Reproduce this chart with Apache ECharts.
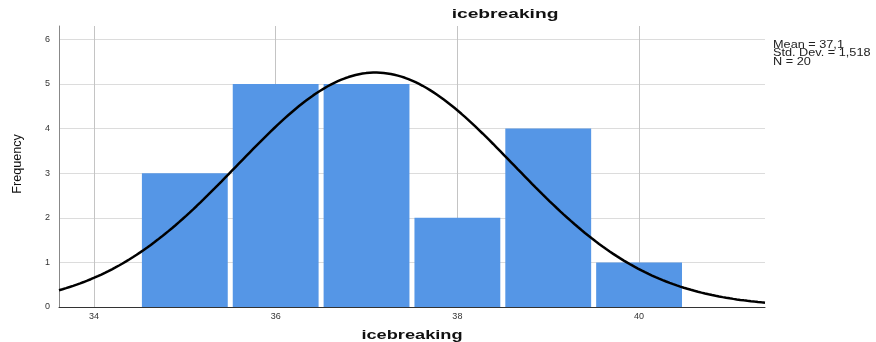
<!DOCTYPE html>
<html>
<head>
<meta charset="utf-8">
<script src="https://cdn.jsdelivr.net/npm/echarts@6/dist/echarts.min.js"></script>
<style>
  html, body { margin: 0; padding: 0; background: #fff; }
  #chart { width: 876px; height: 342px; }
</style>
</head>
<body>
<div id="chart"></div>
<script>
// Histogram bins (lower, upper) and their frequencies
const binLower = [34.5, 35.5, 36.5, 37.5, 38.5, 39.5];
const binUpper = [35.5, 36.5, 37.5, 38.5, 39.5, 40.5];
const frequency = [3, 5, 5, 2, 4, 1];

// Summary statistics shown beside the plot
const mean = 37.1;
const stdDev = 1.518;
const n = 20;
const binWidth = 1;

// Axis ranges and tick labels
const xMin = 33.615, xMax = 41.386;
const xTicks = [34, 36, 38, 40];
const yTicks = [0, 1, 2, 3, 4, 5, 6];
const yMax = 6.3;

// Fitted normal curve scaled to counts
const curve = [];
const steps = 200;
for (let i = 0; i <= steps; i++) {
  const x = xMin + (xMax - xMin) * i / steps;
  const z = (x - mean) / stdDev;
  const y = n * binWidth * Math.exp(-0.5 * z * z) / (stdDev * Math.sqrt(2 * Math.PI));
  curve.push([x, y]);
}

const bars = binLower.map((lo, i) => [lo, binUpper[i], frequency[i]]);
const FONT = 'Liberation Sans, Arial, sans-serif';
const BAR_GAP = 2.5; // half of the white gap between neighbouring bars, px

const chart = echarts.init(document.getElementById('chart'), null, { renderer: 'canvas' });
chart.setOption({
  animation: false,
  backgroundColor: '#ffffff',
  grid: { left: 59, right: 111, top: 26, bottom: 35, outerBoundsMode: 'none', containLabel: false },
  xAxis: {
    type: 'value',
    min: xMin, max: xMax,
    axisLine: { show: true, lineStyle: { color: '#333', width: 1 } },
    axisTick: { show: false, customValues: xTicks },
    axisLabel: { customValues: xTicks, fontSize: 9, color: '#333', margin: 5, fontFamily: FONT },
    splitLine: { show: true, lineStyle: { color: '#c4c4c4', width: 1 } }
  },
  yAxis: {
    type: 'value',
    min: 0, max: yMax,
    axisLine: { show: true, lineStyle: { color: '#888', width: 1 } },
    axisTick: { show: false, customValues: yTicks },
    axisLabel: { customValues: yTicks, fontSize: 9, color: '#333', margin: 9, fontFamily: FONT },
    splitLine: { show: true, lineStyle: { color: '#dcdcdc', width: 1 } }
  },
  series: [
    {
      type: 'custom',
      data: bars,
      z: 2,
      renderItem: function (params, api) {
        const p0 = api.coord([api.value(0), api.value(2)]);
        const p1 = api.coord([api.value(1), 0]);
        return {
          type: 'rect',
          shape: { x: p0[0] + BAR_GAP, y: p0[1], width: p1[0] - p0[0] - 2 * BAR_GAP, height: p1[1] - p0[1] },
          style: { fill: '#5596e6' }
        };
      }
    },
    {
      type: 'line',
      data: curve,
      z: 3,
      showSymbol: false,
      smooth: false,
      lineStyle: { color: '#000', width: 2.5 }
    }
  ],
  graphic: [
    {
      type: 'text',
      x: 505, y: 15,
      scaleX: 1.6,
      style: {
        text: 'icebreaking',
        font: 'bold 12px ' + FONT,
        fill: '#111',
        align: 'center',
        verticalAlign: 'middle'
      }
    },
    {
      type: 'text',
      x: 412, y: 335,
      scaleX: 1.4,
      style: {
        text: 'icebreaking',
        font: 'bold 13px ' + FONT,
        fill: '#111',
        align: 'center',
        verticalAlign: 'middle'
      }
    },
    {
      type: 'text',
      x: 18, y: 164,
      rotation: Math.PI / 2,
      scaleX: 0.9,
      scaleY: 0.85,
      style: {
        text: 'Frequency',
        font: '14px ' + FONT,
        fill: '#111',
        align: 'center',
        verticalAlign: 'middle'
      }
    },
    {
      type: 'text',
      x: 773, y: 40.5,
      scaleX: 1.27,
      style: {
        text: 'Mean = ' + String(mean).replace('.', ',') + '\nStd. Dev. = ' + String(stdDev).replace('.', ',') + '\nN = ' + n,
        font: '10px ' + FONT,
        lineHeight: 8.5,
        fill: '#222'
      }
    }
  ]
});
</script>
</body>
</html>
